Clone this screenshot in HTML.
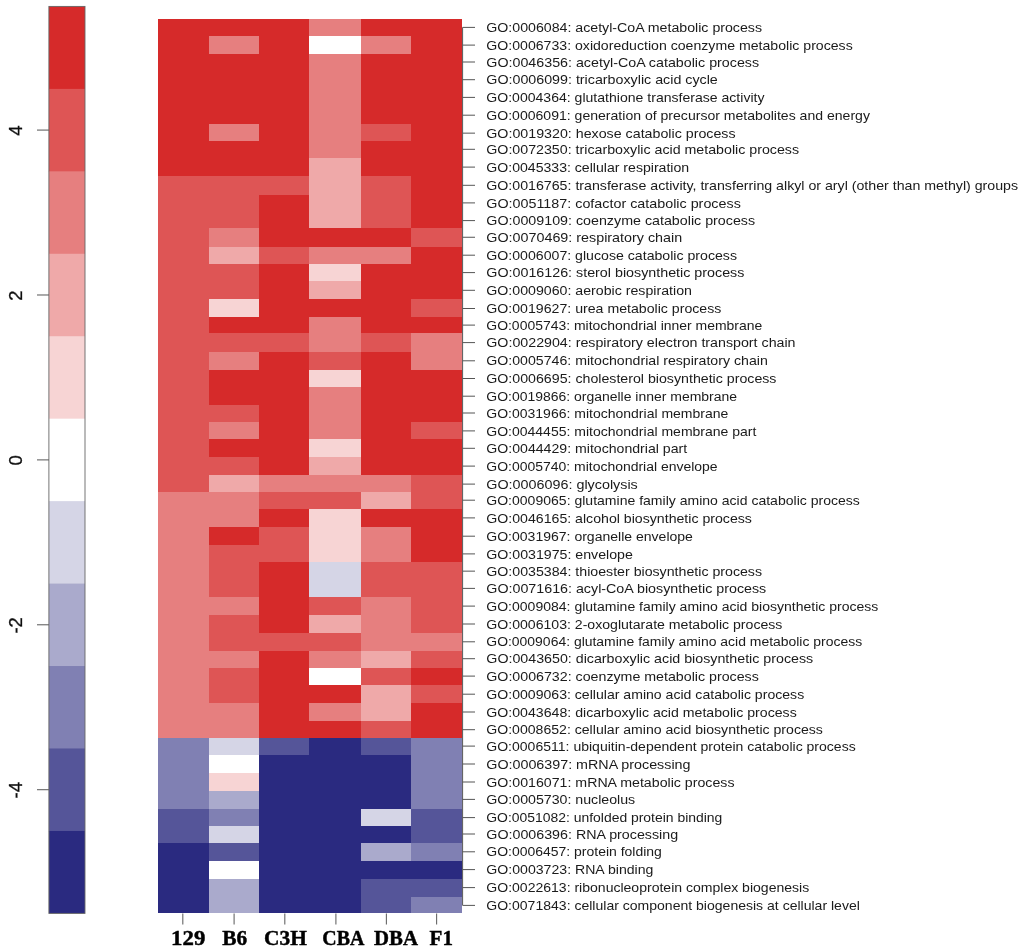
<!DOCTYPE html><html><head><meta charset="utf-8"><style>html,body{margin:0;padding:0;background:#fff;width:1024px;height:950px;overflow:hidden}svg{display:block}</style></head><body>
<svg width="1024" height="950" viewBox="0 0 1024 950">
<defs><filter id="bl" x="0" y="0" width="1024" height="950" filterUnits="userSpaceOnUse"><feGaussianBlur stdDeviation="0.45"/></filter></defs>
<rect x="0" y="0" width="1024" height="950" fill="#fff"/><g filter="url(#bl)"><g shape-rendering="crispEdges">
<rect x="158.30" y="19.00" width="50.30" height="157.00" fill="#d62929"/>
<rect x="158.30" y="176.00" width="50.30" height="316.20" fill="#de5454"/>
<rect x="158.30" y="492.20" width="50.30" height="246.00" fill="#e67f7f"/>
<rect x="158.30" y="738.20" width="50.30" height="71.20" fill="#8080b3"/>
<rect x="158.30" y="809.40" width="50.30" height="33.80" fill="#555599"/>
<rect x="158.30" y="843.20" width="50.30" height="70.20" fill="#2b2b80"/>
<rect x="208.60" y="19.00" width="50.20" height="17.10" fill="#d62929"/>
<rect x="208.60" y="36.10" width="50.20" height="18.00" fill="#e67f7f"/>
<rect x="208.60" y="54.10" width="50.20" height="70.00" fill="#d62929"/>
<rect x="208.60" y="124.10" width="50.20" height="17.10" fill="#e67f7f"/>
<rect x="208.60" y="141.20" width="50.20" height="34.80" fill="#d62929"/>
<rect x="208.60" y="176.00" width="50.20" height="52.00" fill="#de5454"/>
<rect x="208.60" y="228.00" width="50.20" height="19.00" fill="#e67f7f"/>
<rect x="208.60" y="247.00" width="50.20" height="16.90" fill="#efa9a9"/>
<rect x="208.60" y="263.90" width="50.20" height="35.50" fill="#de5454"/>
<rect x="208.60" y="299.40" width="50.20" height="17.40" fill="#f7d4d4"/>
<rect x="208.60" y="316.80" width="50.20" height="16.50" fill="#d62929"/>
<rect x="208.60" y="333.30" width="50.20" height="18.40" fill="#de5454"/>
<rect x="208.60" y="351.70" width="50.20" height="18.60" fill="#e67f7f"/>
<rect x="208.60" y="370.30" width="50.20" height="34.30" fill="#d62929"/>
<rect x="208.60" y="404.60" width="50.20" height="17.20" fill="#de5454"/>
<rect x="208.60" y="421.80" width="50.20" height="17.30" fill="#e67f7f"/>
<rect x="208.60" y="439.10" width="50.20" height="18.10" fill="#d62929"/>
<rect x="208.60" y="457.20" width="50.20" height="18.10" fill="#de5454"/>
<rect x="208.60" y="475.30" width="50.20" height="16.90" fill="#efa9a9"/>
<rect x="208.60" y="492.20" width="50.20" height="34.85" fill="#e67f7f"/>
<rect x="208.60" y="527.05" width="50.20" height="18.00" fill="#d62929"/>
<rect x="208.60" y="545.05" width="50.20" height="52.20" fill="#de5454"/>
<rect x="208.60" y="597.25" width="50.20" height="17.80" fill="#e67f7f"/>
<rect x="208.60" y="615.05" width="50.20" height="35.85" fill="#de5454"/>
<rect x="208.60" y="650.90" width="50.20" height="17.00" fill="#e67f7f"/>
<rect x="208.60" y="667.90" width="50.20" height="35.10" fill="#de5454"/>
<rect x="208.60" y="703.00" width="50.20" height="35.20" fill="#e67f7f"/>
<rect x="208.60" y="738.20" width="50.20" height="16.85" fill="#d5d5e6"/>
<rect x="208.60" y="755.05" width="50.20" height="17.95" fill="#ffffff"/>
<rect x="208.60" y="773.00" width="50.20" height="17.70" fill="#f7d4d4"/>
<rect x="208.60" y="790.70" width="50.20" height="18.70" fill="#aaaacc"/>
<rect x="208.60" y="809.40" width="50.20" height="16.40" fill="#8080b3"/>
<rect x="208.60" y="825.80" width="50.20" height="17.40" fill="#d5d5e6"/>
<rect x="208.60" y="843.20" width="50.20" height="17.70" fill="#555599"/>
<rect x="208.60" y="860.90" width="50.20" height="17.80" fill="#ffffff"/>
<rect x="208.60" y="878.70" width="50.20" height="34.70" fill="#aaaacc"/>
<rect x="258.80" y="19.00" width="50.20" height="157.00" fill="#d62929"/>
<rect x="258.80" y="176.00" width="50.20" height="18.60" fill="#de5454"/>
<rect x="258.80" y="194.60" width="50.20" height="52.40" fill="#d62929"/>
<rect x="258.80" y="247.00" width="50.20" height="16.90" fill="#de5454"/>
<rect x="258.80" y="263.90" width="50.20" height="69.40" fill="#d62929"/>
<rect x="258.80" y="333.30" width="50.20" height="18.40" fill="#de5454"/>
<rect x="258.80" y="351.70" width="50.20" height="123.60" fill="#d62929"/>
<rect x="258.80" y="475.30" width="50.20" height="16.90" fill="#e67f7f"/>
<rect x="258.80" y="492.20" width="50.20" height="17.10" fill="#de5454"/>
<rect x="258.80" y="509.30" width="50.20" height="17.75" fill="#d62929"/>
<rect x="258.80" y="527.05" width="50.20" height="35.05" fill="#de5454"/>
<rect x="258.80" y="562.10" width="50.20" height="70.90" fill="#d62929"/>
<rect x="258.80" y="633.00" width="50.20" height="17.90" fill="#de5454"/>
<rect x="258.80" y="650.90" width="50.20" height="87.30" fill="#d62929"/>
<rect x="258.80" y="738.20" width="50.20" height="16.85" fill="#555599"/>
<rect x="258.80" y="755.05" width="50.20" height="158.35" fill="#2b2b80"/>
<rect x="309.00" y="19.00" width="51.50" height="17.10" fill="#e67f7f"/>
<rect x="309.00" y="36.10" width="51.50" height="18.00" fill="#ffffff"/>
<rect x="309.00" y="54.10" width="51.50" height="103.90" fill="#e67f7f"/>
<rect x="309.00" y="158.00" width="51.50" height="70.00" fill="#efa9a9"/>
<rect x="309.00" y="228.00" width="51.50" height="19.00" fill="#d62929"/>
<rect x="309.00" y="247.00" width="51.50" height="16.90" fill="#e67f7f"/>
<rect x="309.00" y="263.90" width="51.50" height="17.55" fill="#f7d4d4"/>
<rect x="309.00" y="281.45" width="51.50" height="17.95" fill="#efa9a9"/>
<rect x="309.00" y="299.40" width="51.50" height="17.40" fill="#d62929"/>
<rect x="309.00" y="316.80" width="51.50" height="34.90" fill="#e67f7f"/>
<rect x="309.00" y="351.70" width="51.50" height="18.60" fill="#de5454"/>
<rect x="309.00" y="370.30" width="51.50" height="17.05" fill="#f7d4d4"/>
<rect x="309.00" y="387.35" width="51.50" height="51.75" fill="#e67f7f"/>
<rect x="309.00" y="439.10" width="51.50" height="18.10" fill="#f7d4d4"/>
<rect x="309.00" y="457.20" width="51.50" height="18.10" fill="#efa9a9"/>
<rect x="309.00" y="475.30" width="51.50" height="16.90" fill="#e67f7f"/>
<rect x="309.00" y="492.20" width="51.50" height="17.10" fill="#de5454"/>
<rect x="309.00" y="509.30" width="51.50" height="52.80" fill="#f7d4d4"/>
<rect x="309.00" y="562.10" width="51.50" height="35.15" fill="#d5d5e6"/>
<rect x="309.00" y="597.25" width="51.50" height="17.80" fill="#de5454"/>
<rect x="309.00" y="615.05" width="51.50" height="17.95" fill="#efa9a9"/>
<rect x="309.00" y="633.00" width="51.50" height="17.90" fill="#de5454"/>
<rect x="309.00" y="650.90" width="51.50" height="17.00" fill="#e67f7f"/>
<rect x="309.00" y="667.90" width="51.50" height="17.20" fill="#ffffff"/>
<rect x="309.00" y="685.10" width="51.50" height="17.90" fill="#d62929"/>
<rect x="309.00" y="703.00" width="51.50" height="17.85" fill="#e67f7f"/>
<rect x="309.00" y="720.85" width="51.50" height="17.35" fill="#d62929"/>
<rect x="309.00" y="738.20" width="51.50" height="175.20" fill="#2b2b80"/>
<rect x="360.50" y="19.00" width="50.40" height="17.10" fill="#d62929"/>
<rect x="360.50" y="36.10" width="50.40" height="18.00" fill="#e67f7f"/>
<rect x="360.50" y="54.10" width="50.40" height="70.00" fill="#d62929"/>
<rect x="360.50" y="124.10" width="50.40" height="17.10" fill="#de5454"/>
<rect x="360.50" y="141.20" width="50.40" height="34.80" fill="#d62929"/>
<rect x="360.50" y="176.00" width="50.40" height="52.00" fill="#de5454"/>
<rect x="360.50" y="228.00" width="50.40" height="19.00" fill="#d62929"/>
<rect x="360.50" y="247.00" width="50.40" height="16.90" fill="#e67f7f"/>
<rect x="360.50" y="263.90" width="50.40" height="69.40" fill="#d62929"/>
<rect x="360.50" y="333.30" width="50.40" height="18.40" fill="#de5454"/>
<rect x="360.50" y="351.70" width="50.40" height="123.60" fill="#d62929"/>
<rect x="360.50" y="475.30" width="50.40" height="16.90" fill="#e67f7f"/>
<rect x="360.50" y="492.20" width="50.40" height="17.10" fill="#efa9a9"/>
<rect x="360.50" y="509.30" width="50.40" height="17.75" fill="#d62929"/>
<rect x="360.50" y="527.05" width="50.40" height="35.05" fill="#e67f7f"/>
<rect x="360.50" y="562.10" width="50.40" height="35.15" fill="#de5454"/>
<rect x="360.50" y="597.25" width="50.40" height="53.65" fill="#e67f7f"/>
<rect x="360.50" y="650.90" width="50.40" height="17.00" fill="#efa9a9"/>
<rect x="360.50" y="667.90" width="50.40" height="17.20" fill="#de5454"/>
<rect x="360.50" y="685.10" width="50.40" height="35.75" fill="#efa9a9"/>
<rect x="360.50" y="720.85" width="50.40" height="17.35" fill="#de5454"/>
<rect x="360.50" y="738.20" width="50.40" height="16.85" fill="#555599"/>
<rect x="360.50" y="755.05" width="50.40" height="54.35" fill="#2b2b80"/>
<rect x="360.50" y="809.40" width="50.40" height="16.40" fill="#d5d5e6"/>
<rect x="360.50" y="825.80" width="50.40" height="17.40" fill="#2b2b80"/>
<rect x="360.50" y="843.20" width="50.40" height="17.70" fill="#aaaacc"/>
<rect x="360.50" y="860.90" width="50.40" height="17.80" fill="#2b2b80"/>
<rect x="360.50" y="878.70" width="50.40" height="34.70" fill="#555599"/>
<rect x="410.90" y="19.00" width="51.10" height="209.00" fill="#d62929"/>
<rect x="410.90" y="228.00" width="51.10" height="19.00" fill="#de5454"/>
<rect x="410.90" y="247.00" width="51.10" height="52.40" fill="#d62929"/>
<rect x="410.90" y="299.40" width="51.10" height="17.40" fill="#de5454"/>
<rect x="410.90" y="316.80" width="51.10" height="16.50" fill="#d62929"/>
<rect x="410.90" y="333.30" width="51.10" height="37.00" fill="#e67f7f"/>
<rect x="410.90" y="370.30" width="51.10" height="51.50" fill="#d62929"/>
<rect x="410.90" y="421.80" width="51.10" height="17.30" fill="#de5454"/>
<rect x="410.90" y="439.10" width="51.10" height="36.20" fill="#d62929"/>
<rect x="410.90" y="475.30" width="51.10" height="34.00" fill="#de5454"/>
<rect x="410.90" y="509.30" width="51.10" height="52.80" fill="#d62929"/>
<rect x="410.90" y="562.10" width="51.10" height="70.90" fill="#de5454"/>
<rect x="410.90" y="633.00" width="51.10" height="17.90" fill="#e67f7f"/>
<rect x="410.90" y="650.90" width="51.10" height="17.00" fill="#de5454"/>
<rect x="410.90" y="667.90" width="51.10" height="17.20" fill="#d62929"/>
<rect x="410.90" y="685.10" width="51.10" height="17.90" fill="#de5454"/>
<rect x="410.90" y="703.00" width="51.10" height="35.20" fill="#d62929"/>
<rect x="410.90" y="738.20" width="51.10" height="71.20" fill="#8080b3"/>
<rect x="410.90" y="809.40" width="51.10" height="33.80" fill="#555599"/>
<rect x="410.90" y="843.20" width="51.10" height="17.70" fill="#8080b3"/>
<rect x="410.90" y="860.90" width="51.10" height="17.80" fill="#2b2b80"/>
<rect x="410.90" y="878.70" width="51.10" height="18.20" fill="#555599"/>
<rect x="410.90" y="896.90" width="51.10" height="16.50" fill="#8080b3"/>
</g>
<line x1="462.6" y1="27.40" x2="462.6" y2="905.40" stroke="#555" stroke-width="1"/>
<line x1="462.6" y1="27.40" x2="475" y2="27.40" stroke="#555" stroke-width="1"/>
<line x1="462.6" y1="45.10" x2="475" y2="45.10" stroke="#555" stroke-width="1"/>
<line x1="462.6" y1="62.00" x2="475" y2="62.00" stroke="#555" stroke-width="1"/>
<line x1="462.6" y1="79.70" x2="475" y2="79.70" stroke="#555" stroke-width="1"/>
<line x1="462.6" y1="97.40" x2="475" y2="97.40" stroke="#555" stroke-width="1"/>
<line x1="462.6" y1="115.20" x2="475" y2="115.20" stroke="#555" stroke-width="1"/>
<line x1="462.6" y1="133.15" x2="475" y2="133.15" stroke="#555" stroke-width="1"/>
<line x1="462.6" y1="149.30" x2="475" y2="149.30" stroke="#555" stroke-width="1"/>
<line x1="462.6" y1="167.10" x2="475" y2="167.10" stroke="#555" stroke-width="1"/>
<line x1="462.6" y1="185.30" x2="475" y2="185.30" stroke="#555" stroke-width="1"/>
<line x1="462.6" y1="202.90" x2="475" y2="202.90" stroke="#555" stroke-width="1"/>
<line x1="462.6" y1="220.60" x2="475" y2="220.60" stroke="#555" stroke-width="1"/>
<line x1="462.6" y1="237.25" x2="475" y2="237.25" stroke="#555" stroke-width="1"/>
<line x1="462.6" y1="255.20" x2="475" y2="255.20" stroke="#555" stroke-width="1"/>
<line x1="462.6" y1="272.60" x2="475" y2="272.60" stroke="#555" stroke-width="1"/>
<line x1="462.6" y1="290.30" x2="475" y2="290.30" stroke="#555" stroke-width="1"/>
<line x1="462.6" y1="308.50" x2="475" y2="308.50" stroke="#555" stroke-width="1"/>
<line x1="462.6" y1="325.10" x2="475" y2="325.10" stroke="#555" stroke-width="1"/>
<line x1="462.6" y1="342.60" x2="475" y2="342.60" stroke="#555" stroke-width="1"/>
<line x1="462.6" y1="360.80" x2="475" y2="360.80" stroke="#555" stroke-width="1"/>
<line x1="462.6" y1="378.50" x2="475" y2="378.50" stroke="#555" stroke-width="1"/>
<line x1="462.6" y1="396.20" x2="475" y2="396.20" stroke="#555" stroke-width="1"/>
<line x1="462.6" y1="413.00" x2="475" y2="413.00" stroke="#555" stroke-width="1"/>
<line x1="462.6" y1="430.90" x2="475" y2="430.90" stroke="#555" stroke-width="1"/>
<line x1="462.6" y1="448.30" x2="475" y2="448.30" stroke="#555" stroke-width="1"/>
<line x1="462.6" y1="466.10" x2="475" y2="466.10" stroke="#555" stroke-width="1"/>
<line x1="462.6" y1="484.10" x2="475" y2="484.10" stroke="#555" stroke-width="1"/>
<line x1="462.6" y1="500.20" x2="475" y2="500.20" stroke="#555" stroke-width="1"/>
<line x1="462.6" y1="517.90" x2="475" y2="517.90" stroke="#555" stroke-width="1"/>
<line x1="462.6" y1="536.20" x2="475" y2="536.20" stroke="#555" stroke-width="1"/>
<line x1="462.6" y1="553.90" x2="475" y2="553.90" stroke="#555" stroke-width="1"/>
<line x1="462.6" y1="571.15" x2="475" y2="571.15" stroke="#555" stroke-width="1"/>
<line x1="462.6" y1="588.40" x2="475" y2="588.40" stroke="#555" stroke-width="1"/>
<line x1="462.6" y1="606.10" x2="475" y2="606.10" stroke="#555" stroke-width="1"/>
<line x1="462.6" y1="624.00" x2="475" y2="624.00" stroke="#555" stroke-width="1"/>
<line x1="462.6" y1="641.80" x2="475" y2="641.80" stroke="#555" stroke-width="1"/>
<line x1="462.6" y1="658.70" x2="475" y2="658.70" stroke="#555" stroke-width="1"/>
<line x1="462.6" y1="676.10" x2="475" y2="676.10" stroke="#555" stroke-width="1"/>
<line x1="462.6" y1="694.20" x2="475" y2="694.20" stroke="#555" stroke-width="1"/>
<line x1="462.6" y1="712.00" x2="475" y2="712.00" stroke="#555" stroke-width="1"/>
<line x1="462.6" y1="729.70" x2="475" y2="729.70" stroke="#555" stroke-width="1"/>
<line x1="462.6" y1="746.10" x2="475" y2="746.10" stroke="#555" stroke-width="1"/>
<line x1="462.6" y1="764.00" x2="475" y2="764.00" stroke="#555" stroke-width="1"/>
<line x1="462.6" y1="782.00" x2="475" y2="782.00" stroke="#555" stroke-width="1"/>
<line x1="462.6" y1="799.40" x2="475" y2="799.40" stroke="#555" stroke-width="1"/>
<line x1="462.6" y1="817.60" x2="475" y2="817.60" stroke="#555" stroke-width="1"/>
<line x1="462.6" y1="834.00" x2="475" y2="834.00" stroke="#555" stroke-width="1"/>
<line x1="462.6" y1="851.80" x2="475" y2="851.80" stroke="#555" stroke-width="1"/>
<line x1="462.6" y1="869.60" x2="475" y2="869.60" stroke="#555" stroke-width="1"/>
<line x1="462.6" y1="887.60" x2="475" y2="887.60" stroke="#555" stroke-width="1"/>
<line x1="462.6" y1="905.40" x2="475" y2="905.40" stroke="#555" stroke-width="1"/>
<text transform="translate(486.3 32.00) scale(1.1529 1)" font-family="&quot;Liberation Sans&quot;, sans-serif" font-size="12.3" fill="#1a1a1a">GO:0006084: acetyl-CoA metabolic process</text>
<text transform="translate(486.3 49.70) scale(1.1484 1)" font-family="&quot;Liberation Sans&quot;, sans-serif" font-size="12.3" fill="#1a1a1a">GO:0006733: oxidoreduction coenzyme metabolic process</text>
<text transform="translate(486.3 66.60) scale(1.1612 1)" font-family="&quot;Liberation Sans&quot;, sans-serif" font-size="12.3" fill="#1a1a1a">GO:0046356: acetyl-CoA catabolic process</text>
<text transform="translate(486.3 84.30) scale(1.1606 1)" font-family="&quot;Liberation Sans&quot;, sans-serif" font-size="12.3" fill="#1a1a1a">GO:0006099: tricarboxylic acid cycle</text>
<text transform="translate(486.3 102.00) scale(1.1438 1)" font-family="&quot;Liberation Sans&quot;, sans-serif" font-size="12.3" fill="#1a1a1a">GO:0004364: glutathione transferase activity</text>
<text transform="translate(486.3 119.80) scale(1.1434 1)" font-family="&quot;Liberation Sans&quot;, sans-serif" font-size="12.3" fill="#1a1a1a">GO:0006091: generation of precursor metabolites and energy</text>
<text transform="translate(486.3 137.75) scale(1.1589 1)" font-family="&quot;Liberation Sans&quot;, sans-serif" font-size="12.3" fill="#1a1a1a">GO:0019320: hexose catabolic process</text>
<text transform="translate(486.3 153.90) scale(1.1567 1)" font-family="&quot;Liberation Sans&quot;, sans-serif" font-size="12.3" fill="#1a1a1a">GO:0072350: tricarboxylic acid metabolic process</text>
<text transform="translate(486.3 171.70) scale(1.1466 1)" font-family="&quot;Liberation Sans&quot;, sans-serif" font-size="12.3" fill="#1a1a1a">GO:0045333: cellular respiration</text>
<text transform="translate(486.3 189.90) scale(1.1546 1)" font-family="&quot;Liberation Sans&quot;, sans-serif" font-size="12.3" fill="#1a1a1a">GO:0016765: transferase activity, transferring alkyl or aryl (other than methyl) groups</text>
<text transform="translate(486.3 207.50) scale(1.1657 1)" font-family="&quot;Liberation Sans&quot;, sans-serif" font-size="12.3" fill="#1a1a1a">GO:0051187: cofactor catabolic process</text>
<text transform="translate(486.3 225.20) scale(1.1613 1)" font-family="&quot;Liberation Sans&quot;, sans-serif" font-size="12.3" fill="#1a1a1a">GO:0009109: coenzyme catabolic process</text>
<text transform="translate(486.3 241.85) scale(1.1657 1)" font-family="&quot;Liberation Sans&quot;, sans-serif" font-size="12.3" fill="#1a1a1a">GO:0070469: respiratory chain</text>
<text transform="translate(486.3 259.80) scale(1.1495 1)" font-family="&quot;Liberation Sans&quot;, sans-serif" font-size="12.3" fill="#1a1a1a">GO:0006007: glucose catabolic process</text>
<text transform="translate(486.3 277.20) scale(1.1618 1)" font-family="&quot;Liberation Sans&quot;, sans-serif" font-size="12.3" fill="#1a1a1a">GO:0016126: sterol biosynthetic process</text>
<text transform="translate(486.3 294.90) scale(1.1528 1)" font-family="&quot;Liberation Sans&quot;, sans-serif" font-size="12.3" fill="#1a1a1a">GO:0009060: aerobic respiration</text>
<text transform="translate(486.3 313.10) scale(1.1505 1)" font-family="&quot;Liberation Sans&quot;, sans-serif" font-size="12.3" fill="#1a1a1a">GO:0019627: urea metabolic process</text>
<text transform="translate(486.3 329.70) scale(1.1355 1)" font-family="&quot;Liberation Sans&quot;, sans-serif" font-size="12.3" fill="#1a1a1a">GO:0005743: mitochondrial inner membrane</text>
<text transform="translate(486.3 347.20) scale(1.1572 1)" font-family="&quot;Liberation Sans&quot;, sans-serif" font-size="12.3" fill="#1a1a1a">GO:0022904: respiratory electron transport chain</text>
<text transform="translate(486.3 365.40) scale(1.1508 1)" font-family="&quot;Liberation Sans&quot;, sans-serif" font-size="12.3" fill="#1a1a1a">GO:0005746: mitochondrial respiratory chain</text>
<text transform="translate(486.3 383.10) scale(1.1552 1)" font-family="&quot;Liberation Sans&quot;, sans-serif" font-size="12.3" fill="#1a1a1a">GO:0006695: cholesterol biosynthetic process</text>
<text transform="translate(486.3 400.80) scale(1.1359 1)" font-family="&quot;Liberation Sans&quot;, sans-serif" font-size="12.3" fill="#1a1a1a">GO:0019866: organelle inner membrane</text>
<text transform="translate(486.3 417.60) scale(1.1395 1)" font-family="&quot;Liberation Sans&quot;, sans-serif" font-size="12.3" fill="#1a1a1a">GO:0031966: mitochondrial membrane</text>
<text transform="translate(486.3 435.50) scale(1.1398 1)" font-family="&quot;Liberation Sans&quot;, sans-serif" font-size="12.3" fill="#1a1a1a">GO:0044455: mitochondrial membrane part</text>
<text transform="translate(486.3 452.90) scale(1.1488 1)" font-family="&quot;Liberation Sans&quot;, sans-serif" font-size="12.3" fill="#1a1a1a">GO:0044429: mitochondrial part</text>
<text transform="translate(486.3 470.70) scale(1.1356 1)" font-family="&quot;Liberation Sans&quot;, sans-serif" font-size="12.3" fill="#1a1a1a">GO:0005740: mitochondrial envelope</text>
<text transform="translate(486.3 488.70) scale(1.1664 1)" font-family="&quot;Liberation Sans&quot;, sans-serif" font-size="12.3" fill="#1a1a1a">GO:0006096: glycolysis</text>
<text transform="translate(486.3 504.80) scale(1.1414 1)" font-family="&quot;Liberation Sans&quot;, sans-serif" font-size="12.3" fill="#1a1a1a">GO:0009065: glutamine family amino acid catabolic process</text>
<text transform="translate(486.3 522.50) scale(1.1496 1)" font-family="&quot;Liberation Sans&quot;, sans-serif" font-size="12.3" fill="#1a1a1a">GO:0046165: alcohol biosynthetic process</text>
<text transform="translate(486.3 540.80) scale(1.1405 1)" font-family="&quot;Liberation Sans&quot;, sans-serif" font-size="12.3" fill="#1a1a1a">GO:0031967: organelle envelope</text>
<text transform="translate(486.3 558.50) scale(1.1524 1)" font-family="&quot;Liberation Sans&quot;, sans-serif" font-size="12.3" fill="#1a1a1a">GO:0031975: envelope</text>
<text transform="translate(486.3 575.75) scale(1.1529 1)" font-family="&quot;Liberation Sans&quot;, sans-serif" font-size="12.3" fill="#1a1a1a">GO:0035384: thioester biosynthetic process</text>
<text transform="translate(486.3 593.00) scale(1.1613 1)" font-family="&quot;Liberation Sans&quot;, sans-serif" font-size="12.3" fill="#1a1a1a">GO:0071616: acyl-CoA biosynthetic process</text>
<text transform="translate(486.3 610.70) scale(1.1403 1)" font-family="&quot;Liberation Sans&quot;, sans-serif" font-size="12.3" fill="#1a1a1a">GO:0009084: glutamine family amino acid biosynthetic process</text>
<text transform="translate(486.3 628.60) scale(1.1469 1)" font-family="&quot;Liberation Sans&quot;, sans-serif" font-size="12.3" fill="#1a1a1a">GO:0006103: 2-oxoglutarate metabolic process</text>
<text transform="translate(486.3 646.40) scale(1.1345 1)" font-family="&quot;Liberation Sans&quot;, sans-serif" font-size="12.3" fill="#1a1a1a">GO:0009064: glutamine family amino acid metabolic process</text>
<text transform="translate(486.3 663.30) scale(1.1593 1)" font-family="&quot;Liberation Sans&quot;, sans-serif" font-size="12.3" fill="#1a1a1a">GO:0043650: dicarboxylic acid biosynthetic process</text>
<text transform="translate(486.3 680.70) scale(1.1568 1)" font-family="&quot;Liberation Sans&quot;, sans-serif" font-size="12.3" fill="#1a1a1a">GO:0006732: coenzyme metabolic process</text>
<text transform="translate(486.3 698.80) scale(1.1460 1)" font-family="&quot;Liberation Sans&quot;, sans-serif" font-size="12.3" fill="#1a1a1a">GO:0009063: cellular amino acid catabolic process</text>
<text transform="translate(486.3 716.60) scale(1.1500 1)" font-family="&quot;Liberation Sans&quot;, sans-serif" font-size="12.3" fill="#1a1a1a">GO:0043648: dicarboxylic acid metabolic process</text>
<text transform="translate(486.3 734.30) scale(1.1449 1)" font-family="&quot;Liberation Sans&quot;, sans-serif" font-size="12.3" fill="#1a1a1a">GO:0008652: cellular amino acid biosynthetic process</text>
<text transform="translate(486.3 750.70) scale(1.1413 1)" font-family="&quot;Liberation Sans&quot;, sans-serif" font-size="12.3" fill="#1a1a1a">GO:0006511: ubiquitin-dependent protein catabolic process</text>
<text transform="translate(486.3 768.60) scale(1.1632 1)" font-family="&quot;Liberation Sans&quot;, sans-serif" font-size="12.3" fill="#1a1a1a">GO:0006397: mRNA processing</text>
<text transform="translate(486.3 786.60) scale(1.1533 1)" font-family="&quot;Liberation Sans&quot;, sans-serif" font-size="12.3" fill="#1a1a1a">GO:0016071: mRNA metabolic process</text>
<text transform="translate(486.3 804.00) scale(1.1524 1)" font-family="&quot;Liberation Sans&quot;, sans-serif" font-size="12.3" fill="#1a1a1a">GO:0005730: nucleolus</text>
<text transform="translate(486.3 822.20) scale(1.1330 1)" font-family="&quot;Liberation Sans&quot;, sans-serif" font-size="12.3" fill="#1a1a1a">GO:0051082: unfolded protein binding</text>
<text transform="translate(486.3 838.60) scale(1.1604 1)" font-family="&quot;Liberation Sans&quot;, sans-serif" font-size="12.3" fill="#1a1a1a">GO:0006396: RNA processing</text>
<text transform="translate(486.3 856.40) scale(1.1375 1)" font-family="&quot;Liberation Sans&quot;, sans-serif" font-size="12.3" fill="#1a1a1a">GO:0006457: protein folding</text>
<text transform="translate(486.3 874.20) scale(1.1486 1)" font-family="&quot;Liberation Sans&quot;, sans-serif" font-size="12.3" fill="#1a1a1a">GO:0003723: RNA binding</text>
<text transform="translate(486.3 892.20) scale(1.1418 1)" font-family="&quot;Liberation Sans&quot;, sans-serif" font-size="12.3" fill="#1a1a1a">GO:0022613: ribonucleoprotein complex biogenesis</text>
<text transform="translate(486.3 910.00) scale(1.1414 1)" font-family="&quot;Liberation Sans&quot;, sans-serif" font-size="12.3" fill="#1a1a1a">GO:0071843: cellular component biogenesis at cellular level</text>
<line x1="182.80" y1="913.4" x2="182.80" y2="924.5" stroke="#666" stroke-width="1.1"/>
<line x1="234.10" y1="913.4" x2="234.10" y2="924.5" stroke="#666" stroke-width="1.1"/>
<line x1="284.80" y1="913.4" x2="284.80" y2="924.5" stroke="#666" stroke-width="1.1"/>
<line x1="335.90" y1="913.4" x2="335.90" y2="924.5" stroke="#666" stroke-width="1.1"/>
<line x1="386.40" y1="913.4" x2="386.40" y2="924.5" stroke="#666" stroke-width="1.1"/>
<line x1="436.60" y1="913.4" x2="436.60" y2="924.5" stroke="#666" stroke-width="1.1"/>
<text transform="translate(188.20 944.6) scale(1.086 1)" text-anchor="middle" font-family="&quot;Liberation Serif&quot;, serif" font-weight="bold" font-size="21" fill="#000" stroke="#000" stroke-width="0.45">129</text>
<text transform="translate(234.75 944.6) scale(1.017 1)" text-anchor="middle" font-family="&quot;Liberation Serif&quot;, serif" font-weight="bold" font-size="21" fill="#000" stroke="#000" stroke-width="0.45">B6</text>
<text transform="translate(285.40 944.6) scale(1.017 1)" text-anchor="middle" font-family="&quot;Liberation Serif&quot;, serif" font-weight="bold" font-size="21" fill="#000" stroke="#000" stroke-width="0.45">C3H</text>
<text transform="translate(343.30 944.6) scale(0.947 1)" text-anchor="middle" font-family="&quot;Liberation Serif&quot;, serif" font-weight="bold" font-size="21" fill="#000" stroke="#000" stroke-width="0.45">CBA</text>
<text transform="translate(396.05 944.6) scale(0.991 1)" text-anchor="middle" font-family="&quot;Liberation Serif&quot;, serif" font-weight="bold" font-size="21" fill="#000" stroke="#000" stroke-width="0.45">DBA</text>
<text transform="translate(441.25 944.6) scale(1.000 1)" text-anchor="middle" font-family="&quot;Liberation Serif&quot;, serif" font-weight="bold" font-size="21" fill="#000" stroke="#000" stroke-width="0.45">F1</text>
<rect x="48.9" y="6.40" width="36.10" height="83.25" fill="#d62929"/>
<rect x="48.9" y="88.85" width="36.10" height="83.25" fill="#de5454"/>
<rect x="48.9" y="171.31" width="36.10" height="83.25" fill="#e67f7f"/>
<rect x="48.9" y="253.76" width="36.10" height="83.25" fill="#efa9a9"/>
<rect x="48.9" y="336.22" width="36.10" height="83.25" fill="#f7d4d4"/>
<rect x="48.9" y="418.67" width="36.10" height="83.25" fill="#ffffff"/>
<rect x="48.9" y="501.13" width="36.10" height="83.25" fill="#d5d5e6"/>
<rect x="48.9" y="583.58" width="36.10" height="83.25" fill="#aaaacc"/>
<rect x="48.9" y="666.04" width="36.10" height="83.25" fill="#8080b3"/>
<rect x="48.9" y="748.49" width="36.10" height="83.25" fill="#555599"/>
<rect x="48.9" y="830.95" width="36.10" height="82.45" fill="#2b2b80"/>
<rect x="48.9" y="6.4" width="36.10" height="907.00" fill="none" stroke="#666" stroke-width="0.9"/>
<line x1="37" y1="130.08" x2="48.9" y2="130.08" stroke="#555" stroke-width="1"/>
<text transform="translate(21.6 130.58) rotate(-90) scale(1 1.04)" text-anchor="middle" font-family="&quot;Liberation Sans&quot;, sans-serif" font-size="18.5" fill="#111" stroke="#111" stroke-width="0.3">4</text>
<line x1="37" y1="294.99" x2="48.9" y2="294.99" stroke="#555" stroke-width="1"/>
<text transform="translate(21.6 295.49) rotate(-90) scale(1 1.04)" text-anchor="middle" font-family="&quot;Liberation Sans&quot;, sans-serif" font-size="18.5" fill="#111" stroke="#111" stroke-width="0.3">2</text>
<line x1="37" y1="459.90" x2="48.9" y2="459.90" stroke="#555" stroke-width="1"/>
<text transform="translate(21.6 460.40) rotate(-90) scale(1 1.04)" text-anchor="middle" font-family="&quot;Liberation Sans&quot;, sans-serif" font-size="18.5" fill="#111" stroke="#111" stroke-width="0.3">0</text>
<line x1="37" y1="624.81" x2="48.9" y2="624.81" stroke="#555" stroke-width="1"/>
<text transform="translate(21.6 625.31) rotate(-90) scale(1 1.04)" text-anchor="middle" font-family="&quot;Liberation Sans&quot;, sans-serif" font-size="18.5" fill="#111" stroke="#111" stroke-width="0.3">-2</text>
<line x1="37" y1="789.72" x2="48.9" y2="789.72" stroke="#555" stroke-width="1"/>
<text transform="translate(21.6 790.22) rotate(-90) scale(1 1.04)" text-anchor="middle" font-family="&quot;Liberation Sans&quot;, sans-serif" font-size="18.5" fill="#111" stroke="#111" stroke-width="0.3">-4</text>
</g></svg></body></html>
